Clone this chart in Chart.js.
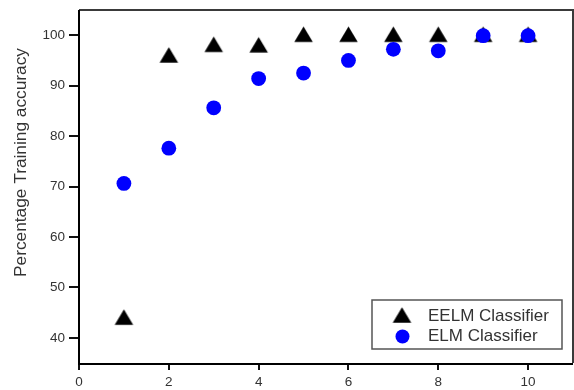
<!DOCTYPE html>
<html>
<head>
<meta charset="utf-8">
<script src="https://cdn.jsdelivr.net/npm/chart.js@4"></script>
<style>
html,body{margin:0;padding:0;background:#fff;}
#wrap{width:574px;height:390px;}
</style>
</head>
<body>
<div id="wrap"><canvas id="c" width="574" height="390"></canvas></div>
<script>
const xValues = [1, 2, 3, 4, 5, 6, 7, 8, 9, 10];
const eelmValues = [44.1, 96.1, 98.2, 98.1, 100.2, 100.2, 100.2, 100.2, 100.2, 100.2];
const elmValues = [70.6, 77.6, 85.6, 91.4, 92.5, 95.0, 97.2, 96.9, 99.9, 99.9];
const seriesLabels = ['EELM Classifier', 'ELM Classifier'];
const xTicks = [0, 2, 4, 6, 8, 10];
const yTicks = [40, 50, 60, 70, 80, 90, 100];
const yTitle = 'Percentage Training accuracy';

const toPts = (vals) => xValues.map((x, i) => ({x: x, y: vals[i]}));
const FONT = '"Liberation Sans", Arial, sans-serif';

// triangle marker whose bounding box is centred on the point
function makeTriangle(w, h) {
  const c = document.createElement('canvas');
  c.width = Math.ceil(w) + 2; c.height = Math.ceil(h) + 2;
  const g = c.getContext('2d');
  const cx = c.width / 2, cy = c.height / 2;
  g.fillStyle = '#000';
  g.beginPath();
  g.moveTo(cx, cy - h / 2);
  g.lineTo(cx + w / 2, cy + h / 2);
  g.lineTo(cx - w / 2, cy + h / 2);
  g.closePath();
  g.fill();
  return c;
}
const triImg = makeTriangle(18.5, 15.5);

const frame = {
  id: 'frame',
  afterDraw(chart) {
    const {ctx, chartArea: a} = chart;
    ctx.save();
    ctx.strokeStyle = '#3a3a3a';
    ctx.lineWidth = 2;
    ctx.beginPath();
    ctx.moveTo(a.left, a.top); ctx.lineTo(a.right, a.top); ctx.lineTo(a.right, a.bottom);
    ctx.stroke();
    ctx.strokeStyle = '#000';
    ctx.lineWidth = 2;
    ctx.beginPath();
    ctx.moveTo(a.left, a.top); ctx.lineTo(a.left, a.bottom + 1); ctx.lineTo(a.right, a.bottom + 1);
    ctx.stroke();

    // y-axis title
    ctx.save();
    ctx.font = '16px ' + FONT;
    const tw = ctx.measureText(yTitle).width;
    ctx.translate(22, 162.5);
    ctx.rotate(-Math.PI / 2);
    ctx.scale(229 / tw, 1);
    ctx.fillStyle = '#333';
    ctx.textAlign = 'center';
    ctx.textBaseline = 'middle';
    ctx.fillText(yTitle, 0, 0);
    ctx.restore();

    // legend box
    const bx = 372, by = 300, bw = 190, bh = 49;
    ctx.fillStyle = '#fff';
    ctx.fillRect(bx, by, bw, bh);
    ctx.strokeStyle = '#555';
    ctx.lineWidth = 1.5;
    ctx.strokeRect(bx, by, bw, bh);
    ctx.font = '17px ' + FONT;
    ctx.textBaseline = 'middle';
    const ds = chart.data.datasets;
    ctx.drawImage(triImg, 402 - triImg.width / 2, 315 - triImg.height / 2);
    ctx.fillStyle = '#333';
    ctx.fillText(ds[0].label, 428, 316);
    ctx.fillStyle = ds[1].backgroundColor;
    ctx.beginPath();
    ctx.arc(402.5, 336.5, 7, 0, Math.PI * 2);
    ctx.fill();
    ctx.fillStyle = '#333';
    ctx.fillText(ds[1].label, 428, 336);
    ctx.restore();
  }
};

new Chart(document.getElementById('c'), {
  type: 'scatter',
  data: {
    datasets: [
      {label: seriesLabels[0], data: toPts(eelmValues), pointStyle: triImg, pointRadius: 10, pointHoverRadius: 10,
       backgroundColor: '#000', borderColor: '#000', borderWidth: 0, order: 2},
      {label: seriesLabels[1], data: toPts(elmValues), pointStyle: 'circle', pointRadius: 7.4, pointHoverRadius: 7.4,
       backgroundColor: '#0000ff', borderColor: '#0000ff', borderWidth: 0, order: 1}
    ]
  },
  options: {
    responsive: false,
    animation: false,
    events: [],
    layout: {autoPadding: false, padding: {top: 10, right: 1, left: 0, bottom: 0}},
    plugins: {legend: {display: false}, tooltip: {enabled: false}},
    scales: {
      x: {
        type: 'linear', min: 0, max: 11,
        afterBuildTicks: s => { s.ticks = xTicks.map(v => ({value: v})); },
        afterFit: s => { s.height = 27; s.paddingLeft = 0; s.paddingRight = 0; },
        grid: {drawOnChartArea: false, drawTicks: true, tickLength: 7, color: '#111', lineWidth: 2},
        border: {display: false},
        ticks: {color: '#333', font: {family: FONT, size: 13.5}, padding: 4}
      },
      y: {
        type: 'linear', min: 35, max: 105,
        afterBuildTicks: s => { s.ticks = yTicks.map(v => ({value: v})); },
        afterFit: s => { s.width = 79; s.paddingTop = 0; s.paddingBottom = 0; },
        grid: {drawOnChartArea: false, drawTicks: true, tickLength: 10, color: '#111', lineWidth: 2},
        border: {display: false},
        ticks: {color: '#333', font: {family: FONT, size: 13.5}, padding: 4}
      }
    }
  },
  plugins: [frame]
});
</script>
</body>
</html>
